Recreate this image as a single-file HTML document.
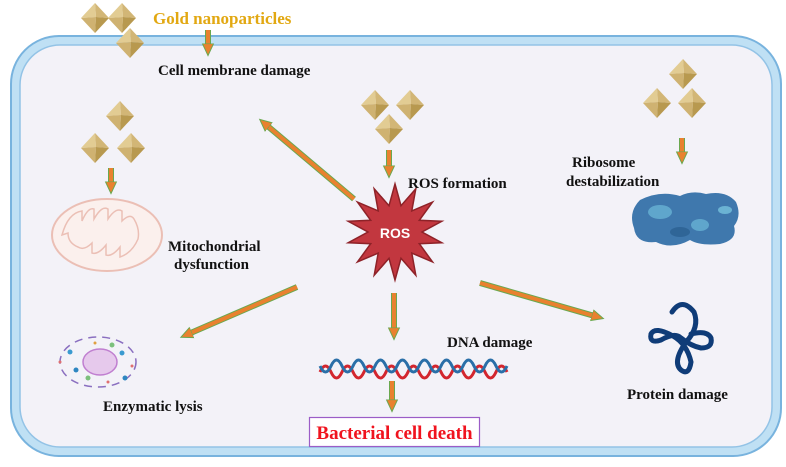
<!DOCTYPE html>
<html><head><meta charset="utf-8"><style>
html,body{margin:0;padding:0;background:#fff;}
svg{display:block;}
text{font-family:"Liberation Serif",serif;font-weight:bold;}
</style></head><body>
<svg width="786" height="467" viewBox="0 0 786 467" xmlns="http://www.w3.org/2000/svg">
<defs>
<g id="d">
<polygon points="0,-15 -14,0 1,-1" fill="#e2cc93"/>
<polygon points="0,-15 14,0 1,-1" fill="#d2b676"/>
<polygon points="-14,0 0,15 1,-1" fill="#cfb271"/>
<polygon points="14,0 0,15 1,-1" fill="#b8994f"/>
</g>
<marker id="ah" markerWidth="3.4" markerHeight="3.4" refX="1.6" refY="1.7" orient="auto" markerUnits="strokeWidth">
<polygon points="0,0.3 3,1.7 0,3.1" fill="#e9812f" stroke="#6aa84f" stroke-width="0.25"/>
</marker>
</defs>
<!-- cell -->
<rect x="11" y="36" width="770" height="420" rx="48" fill="#bfe0f4" stroke="#78b3de" stroke-width="2"/>
<rect x="20" y="45" width="752" height="402" rx="40" fill="#f3f2f8" stroke="#93c3e6" stroke-width="1.5"/>

<!-- diamonds -->
<use href="#d" x="95" y="18"/><use href="#d" x="122" y="18"/><use href="#d" x="130" y="43"/>
<use href="#d" x="120" y="116"/><use href="#d" x="95" y="148"/><use href="#d" x="131" y="148"/>
<use href="#d" x="375" y="105"/><use href="#d" x="410" y="105"/><use href="#d" x="389" y="129"/>
<use href="#d" x="683" y="74"/><use href="#d" x="657" y="103"/><use href="#d" x="692" y="103"/>

<!-- arrows -->
<g fill="none" stroke-linecap="butt">
<g stroke="#6aa84f" stroke-width="6">
<line x1="208" y1="30" x2="208" y2="50"/>
<line x1="111" y1="168" x2="111" y2="188"/>
<line x1="389" y1="150" x2="389" y2="172"/>
<line x1="682" y1="138" x2="682" y2="158"/>
<line x1="354" y1="199" x2="264" y2="123"/>
<line x1="297" y1="287" x2="186" y2="335"/>
<line x1="394" y1="293" x2="394" y2="334"/>
<line x1="480" y1="283" x2="598" y2="317"/>
<line x1="392" y1="381" x2="392" y2="406"/>
</g>
<g stroke="#e9812f" stroke-width="4" marker-end="url(#ah)">
<line x1="208" y1="30" x2="208" y2="50"/>
<line x1="111" y1="168" x2="111" y2="188"/>
<line x1="389" y1="150" x2="389" y2="172"/>
<line x1="682" y1="138" x2="682" y2="158"/>
<line x1="354" y1="199" x2="264" y2="123"/>
<line x1="297" y1="287" x2="186" y2="335"/>
<line x1="394" y1="293" x2="394" y2="334"/>
<line x1="480" y1="283" x2="598" y2="317"/>
<line x1="392" y1="381" x2="392" y2="406"/>
</g>
</g>

<!-- mitochondria -->
<ellipse cx="107" cy="235" rx="55" ry="36" fill="#fbf0ed" stroke="#ebbfb5" stroke-width="2"/>
<path d="M62,235 q6,-22 20,-24 v10 q6,-14 12,-12 v10 q8,-14 14,-10 v10 q8,-12 14,-8 v10 q8,-8 12,-2 q6,10 4,20 q-6,14 -18,18 v-10 q-8,10 -14,8 v-10 q-8,10 -14,8 v-10 q-8,8 -14,4 q-10,-4 -10,-14 z" fill="none" stroke="#ebbfb5" stroke-width="1.5"/>

<!-- ROS star -->
<polygon points="395,184 401,205.7 415.8,188.8 411.8,210.9 432.5,202.1 419.3,220.3 441.8,221.3 422,232 441.8,242.7 419.3,243.7 432.5,261.9 411.8,253.1 415.8,275.2 401,258.3 395,280 389,258.3 374.2,275.2 378.2,253.1 357.5,261.9 370.7,243.7 348.2,242.7 368,232 348.2,221.3 370.7,220.3 357.5,202.1 378.2,210.9 374.2,188.8 389,205.7" fill="#c2373f" stroke="#8e2228" stroke-width="1.5"/>
<text x="395" y="238" text-anchor="middle" style="font-family:'Liberation Sans',sans-serif;font-size:14px;fill:#fff">ROS</text>

<!-- ribosome -->
<path d="M640,200 q20,-10 40,-4 q12,-6 26,-2 q20,-4 30,8 q6,14 -2,24 q4,14 -14,18 q-20,2 -30,-4 q-18,10 -34,2 q-20,2 -22,-14 q-6,-16 6,-28 z" fill="#3f78ad"/>
<ellipse cx="660" cy="212" rx="12" ry="7" fill="#5fa6cc"/>
<ellipse cx="700" cy="225" rx="9" ry="6" fill="#5fa6cc"/>
<ellipse cx="725" cy="210" rx="7" ry="4" fill="#6bb3d3"/>
<ellipse cx="680" cy="232" rx="10" ry="5" fill="#2f6597"/>

<!-- protein -->
<path d="M672,312 q10,-15 22,0 q6,15 -8,30 q-14,20 -5,28 q8,6 10,-8 q-4,-18 -18,-26 q-18,-10 -22,-2 q-2,10 10,6 q14,-8 20,-2 q10,8 20,10 q12,0 10,-10 q-4,-8 -20,-4" fill="none" stroke="#0f3c78" stroke-width="5" stroke-linecap="round"/>

<!-- DNA -->
<path d="M320,372 q5.5,-12 11,0 t11,0 t11,0 t11,0 t11,0 t11,0 t11,0 t11,0 t11,0 t11,0 t11,0 t11,0 t11,0 t11,0 t11,0 t11,0 t11,0" fill="none" stroke="#d3262e" stroke-width="3"/>
<path d="M320,366 q5.5,12 11,0 t11,0 t11,0 t11,0 t11,0 t11,0 t11,0 t11,0 t11,0 t11,0 t11,0 t11,0 t11,0 t11,0 t11,0 t11,0 t11,0" fill="none" stroke="#2a6fa8" stroke-width="3"/>

<!-- enzymatic lysis -->
<g>
<ellipse cx="98" cy="362" rx="38" ry="25" fill="none" stroke="#8a6fc0" stroke-width="1.5" stroke-dasharray="8 6"/>
<ellipse cx="100" cy="362" rx="17" ry="13" fill="#e6c9ec" stroke="#c07fd0" stroke-width="1.5"/>
<circle cx="70" cy="352" r="2.5" fill="#3a9ad0"/><circle cx="76" cy="370" r="2.5" fill="#2e86c1"/>
<circle cx="122" cy="353" r="2.5" fill="#3a9ad0"/><circle cx="125" cy="378" r="2.5" fill="#2e86c1"/>
<circle cx="88" cy="378" r="2.5" fill="#7cc07c"/><circle cx="112" cy="345" r="2.5" fill="#7cc07c"/>
<circle cx="60" cy="362" r="1.5" fill="#e07070"/><circle cx="132" cy="366" r="1.5" fill="#e07070"/>
<circle cx="95" cy="343" r="1.5" fill="#e0a040"/><circle cx="108" cy="382" r="1.5" fill="#e07070"/>
</g>

<!-- labels -->
<text x="153" y="24" style="font-size:17px;fill:#e2a812">Gold nanoparticles</text>
<text x="158" y="75" style="font-size:15px;fill:#111">Cell membrane damage</text>
<text x="168" y="251" style="font-size:15px;fill:#111">Mitochondrial</text>
<text x="174" y="269" style="font-size:15px;fill:#111">dysfunction</text>
<text x="408" y="188" style="font-size:15px;fill:#111">ROS formation</text>
<text x="572" y="167" style="font-size:15px;fill:#111">Ribosome</text>
<text x="566" y="186" style="font-size:15px;fill:#111">destabilization</text>
<text x="447" y="347" style="font-size:15px;fill:#111">DNA damage</text>
<text x="627" y="399" style="font-size:15px;fill:#111">Protein damage</text>
<text x="103" y="411" style="font-size:15px;fill:#111">Enzymatic lysis</text>
<rect x="309.5" y="417.5" width="170" height="29" fill="#fff" stroke="#9b5dc7" stroke-width="1.2"/>
<text x="394.5" y="439" text-anchor="middle" style="font-size:19px;fill:#f0131e">Bacterial cell death</text>
</svg>
</body></html>
